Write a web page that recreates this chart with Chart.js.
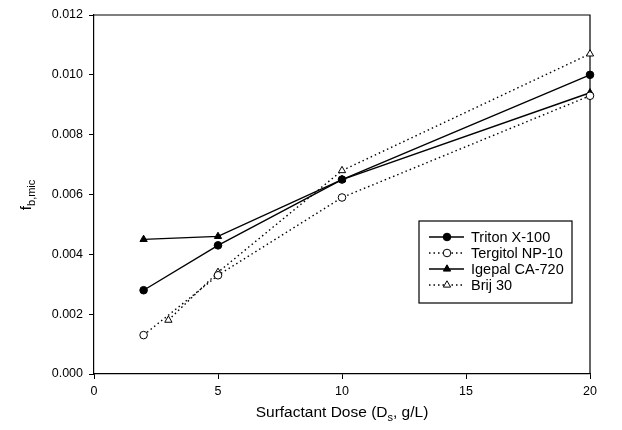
<!DOCTYPE html>
<html>
<head>
<meta charset="utf-8">
<script src="https://cdn.jsdelivr.net/npm/chart.js@4/dist/chart.umd.min.js"></script>
<style>
html,body{margin:0;padding:0;background:#fff;}
#wrap{width:622px;height:430px;position:relative;}
</style>
</head>
<body>
<div id="wrap"><canvas id="c" width="622" height="430"></canvas></div>
<script>
const seriesLabels = ["Triton X-100", "Tergitol NP-10", "Igepal CA-720", "Brij 30"];
const tritonX = [2, 5, 10, 20];
const tritonY = [0.0028, 0.0043, 0.0065, 0.0100];
const tergitolX = [2, 5, 10, 20];
const tergitolY = [0.0013, 0.0033, 0.0059, 0.0093];
const igepalX = [2, 5, 10, 20];
const igepalY = [0.0045, 0.0046, 0.0065, 0.0094];
const brijX = [3, 5, 10, 20];
const brijY = [0.0018, 0.0034, 0.0068, 0.0107];
const xTicks = [0, 5, 10, 15, 20];
const yTicks = [0, 0.002, 0.004, 0.006, 0.008, 0.010, 0.012];

const FONT = "'Liberation Sans', Arial, sans-serif";
const pts = (xs, ys) => xs.map((x, i) => ({x: x, y: ys[i]}));

const styles = [
  {dash: [], fill: '#000', shape: 'circle'},
  {dash: [1.5, 3], fill: '#fff', shape: 'circle'},
  {dash: [], fill: '#000', shape: 'triangle'},
  {dash: [1.5, 3], fill: '#fff', shape: 'triangle'}
];
const dataArr = [pts(tritonX, tritonY), pts(tergitolX, tergitolY), pts(igepalX, igepalY), pts(brijX, brijY)];

const datasets = dataArr.map((d, i) => ({
  label: seriesLabels[i],
  data: d,
  clip: false,
  borderColor: '#000',
  borderWidth: 1.4,
  borderDash: styles[i].dash,
  backgroundColor: styles[i].fill,
  pointBackgroundColor: styles[i].fill,
  pointBorderColor: '#000',
  pointBorderWidth: 1,
  pointStyle: styles[i].shape,
  pointRadius: styles[i].shape === 'circle' ? 3.8 : 4.2,
  tension: 0,
  fill: false
}));

function drawMarker(ctx, shape, x, y, fill) {
  ctx.save();
  ctx.setLineDash([]);
  ctx.lineWidth = 1;
  ctx.strokeStyle = '#000';
  ctx.fillStyle = fill;
  ctx.beginPath();
  if (shape === 'circle') {
    ctx.arc(x, y, 3.8, 0, Math.PI * 2);
  } else {
    const r = 4.2;
    ctx.moveTo(x, y - r);
    ctx.lineTo(x + r * 0.866, y + r * 0.5);
    ctx.lineTo(x - r * 0.866, y + r * 0.5);
    ctx.closePath();
  }
  ctx.fill();
  ctx.stroke();
  ctx.restore();
}

const frame = {
  id: 'frame',
  beforeDatasetsDraw(chart) {
    const ctx = chart.ctx;
    const a = chart.chartArea;
    ctx.save();
    ctx.strokeStyle = '#000';
    ctx.lineWidth = 1.2;
    ctx.beginPath();
    ctx.moveTo(a.left, a.top);
    ctx.lineTo(a.right, a.top);
    ctx.lineTo(a.right, a.bottom);
    ctx.stroke();
    ctx.restore();
  }
};

const decor = {
  id: 'decor',
  afterDraw(chart) {
    const ctx = chart.ctx;
    const a = chart.chartArea;
    ctx.save();
    // x title with subscript
    ctx.fillStyle = '#000';
    ctx.textBaseline = 'alphabetic';
    const big = '15.5px ' + FONT, small = '11px ' + FONT;
    const parts = [['Surfactant Dose (D', big, 0], ['s', small, 4], [', g/L)', big, 0]];
    let total = 0;
    parts.forEach(p => { ctx.font = p[1]; total += ctx.measureText(p[0]).width; });
    let x = (a.left + a.right) / 2 - total / 2;
    const ty = 417;
    parts.forEach(p => { ctx.font = p[1]; ctx.fillText(p[0], x, ty + p[2]); x += ctx.measureText(p[0]).width; });

    // y title rotated
    ctx.save();
    ctx.translate(31, 195);
    ctx.rotate(-Math.PI / 2);
    const yparts = [['f', big, 0], ['b,mic', small, 4]];
    total = 0;
    yparts.forEach(p => { ctx.font = p[1]; total += ctx.measureText(p[0]).width; });
    x = -total / 2;
    yparts.forEach(p => { ctx.font = p[1]; ctx.fillText(p[0], x, p[2]); x += ctx.measureText(p[0]).width; });
    ctx.restore();

    // legend
    const bx = 419, by = 221, bw = 153, bh = 82;
    ctx.fillStyle = '#fff';
    ctx.fillRect(bx, by, bw, bh);
    ctx.lineWidth = 1.2;
    ctx.strokeStyle = '#000';
    ctx.strokeRect(bx, by, bw, bh);
    const rows = [237, 253, 269, 285];
    ctx.font = '14.5px ' + FONT;
    ctx.textBaseline = 'middle';
    seriesLabels.forEach((lab, i) => {
      const y = rows[i];
      ctx.save();
      ctx.lineWidth = 1.4;
      ctx.setLineDash(styles[i].dash);
      ctx.beginPath();
      ctx.moveTo(429, y);
      ctx.lineTo(464, y);
      ctx.stroke();
      ctx.restore();
      drawMarker(ctx, styles[i].shape, 447, y, styles[i].fill);
      ctx.fillStyle = '#000';
      ctx.fillText(lab, 471, y + 1);
    });
    ctx.restore();
  }
};

new Chart(document.getElementById('c'), {
  type: 'line',
  data: { datasets: datasets },
  options: {
    responsive: false,
    animation: false,
    devicePixelRatio: 1,
    layout: { padding: { top: 15, right: 32, left: 0, bottom: 0 } },
    plugins: { legend: { display: false }, tooltip: { enabled: false } },
    scales: {
      x: {
        type: 'linear',
        min: 0, max: 20,
        afterBuildTicks(s) { s.ticks = xTicks.map(v => ({value: v})); },
        afterFit(s) { s.height = 430 - 374; },
        grid: { drawOnChartArea: false, drawTicks: true, tickLength: 5, color: '#000', lineWidth: 1 },
        border: { display: true, color: '#000', width: 1.2 },
        ticks: { color: '#000', font: { family: FONT, size: 12.5 }, padding: 5, maxRotation: 0 }
      },
      y: {
        min: 0, max: 0.012,
        afterBuildTicks(s) { s.ticks = yTicks.map(v => ({value: v})); },
        afterFit(s) { s.width = 94; },
        grid: { drawOnChartArea: false, drawTicks: true, tickLength: 5, color: '#000', lineWidth: 1 },
        border: { display: true, color: '#000', width: 1.2 },
        ticks: { color: '#000', font: { family: FONT, size: 12.5 }, padding: 6, callback: v => v.toFixed(3) }
      }
    }
  },
  plugins: [frame, decor]
});
</script>
</body>
</html>
